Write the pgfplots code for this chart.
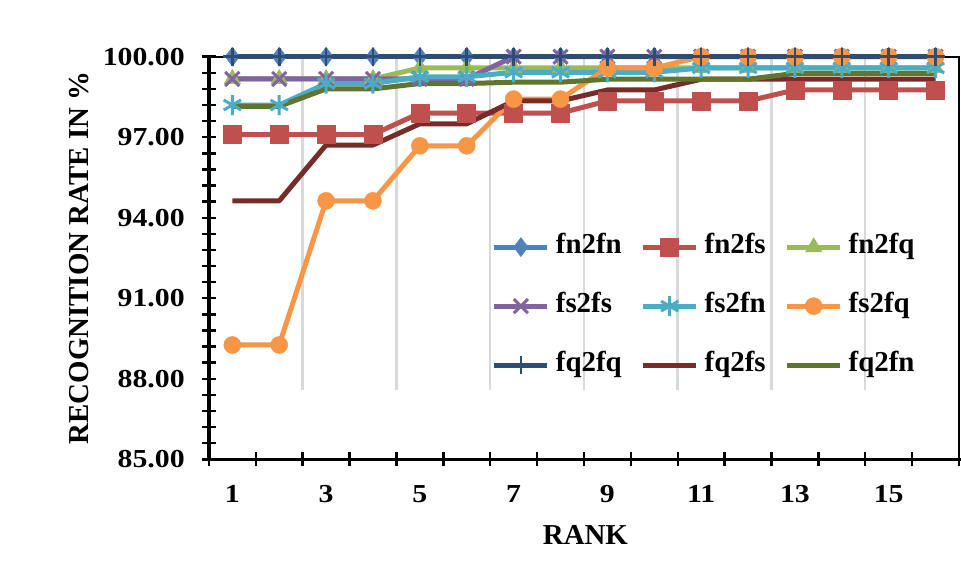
\documentclass[border=0pt]{standalone}
\usepackage{fontspec}
\setmainfont{Liberation Serif}
\newfontfamily\tickfont{Liberation Serif}[FakeStretch=1.15]
\usepackage{pgfplots}
\usepackage{pgfplotstable}
\pgfplotsset{compat=1.18}
\definecolor{cFnfn}{HTML}{4F81BD}
\definecolor{cFnfs}{HTML}{C0504D}
\definecolor{cFnfq}{HTML}{9BBB59}
\definecolor{cFsfs}{HTML}{8064A2}
\definecolor{cFsfn}{HTML}{4BACC6}
\definecolor{cFsfq}{HTML}{F79646}
\definecolor{cFqfq}{HTML}{2C4D75}
\definecolor{cFqfs}{HTML}{772C2A}
\definecolor{cFqfn}{HTML}{5F7530}
\definecolor{gridgray}{HTML}{D9D9D9}
\pgfplotstableread{
rank fnfn fnfs fnfq fsfs fsfn fsfq fqfq fqfs fqfn
1 100 97.10 99.17 99.17 98.20 89.26 100 94.63 98.15
2 100 97.10 99.17 99.17 98.20 89.26 100 94.63 98.15
3 100 97.10 99.17 99.17 99.00 94.63 100 96.71 98.80
4 100 97.10 99.17 99.17 99.00 94.63 100 96.71 98.80
5 100 97.90 99.58 99.17 99.25 96.68 100 97.50 99.00
6 100 97.90 99.58 99.17 99.25 96.68 100 97.50 99.00
7 100 97.90 99.58 100 99.42 98.42 100 98.35 99.05
8 100 97.90 99.58 100 99.42 98.42 100 98.35 99.05
9 100 98.35 99.58 100 99.42 99.58 100 98.76 99.16
10 100 98.35 99.58 100 99.42 99.58 100 98.76 99.16
11 100 98.35 99.58 100 99.58 100 100 99.16 99.16
12 100 98.35 99.58 100 99.58 100 100 99.16 99.16
13 100 98.76 99.58 100 99.58 100 100 99.16 99.38
14 100 98.76 99.58 100 99.58 100 100 99.16 99.38
15 100 98.76 99.58 100 99.58 100 100 99.16 99.38
16 100 98.76 99.58 100 99.58 100 100 99.16 99.38
}\data
\begin{document}
\begin{tikzpicture}
\path[use as bounding box] (-208.9bp,-114.7bp) rectangle (752.1bp,459.3bp);
\begin{axis}[
  at={(0,0)}, anchor=south west,
  width=750.1bp, height=402.6bp, scale only axis,
  xmin=0.5, xmax=16.5, ymin=85, ymax=100,
  clip=false,
  xtick pos=bottom, ytick pos=left,
  xtick={0.5,1.5,...,16.5},
  xticklabels={1,,3,,5,,7,,9,,11,,13,,15,,},
  ytick={85,88,...,100},
  minor y tick num=4,
  tick align=center,
  major tick length=14bp, minor tick length=14bp,
  tick style={black, line width=2.4bp},
  axis line style={black, line width=1.8bp},
  /pgf/number format/assume math mode=true,
  yticklabel={\pgfmathprintnumber[fixed,fixed zerofill,precision=2]{\tick}},
  yticklabel style={font=\tickfont\bfseries\fontsize{26}{30}\selectfont, anchor=east, inner sep=0pt, xshift=-17bp},
  xticklabel style={font=\tickfont\bfseries\fontsize{26}{30}\selectfont, anchor=center, inner sep=0pt, xshift=23.44bp, yshift=-28bp},
  xlabel={RANK},
  ylabel={RECOGNITION RATE IN \%},
  every axis x label/.style={at={(axis description cs:0.502,-0.188)}, anchor=center, font=\bfseries\fontsize{29}{32}\selectfont},
  every axis y label/.style={at={(axis description cs:-0.1733,0.5)}, rotate=90, anchor=center, font=\bfseries\fontsize{29}{32}\selectfont},
  legend columns=3,
  legend cell align=left,
  legend style={at={(axis description cs:0.377,0.561)}, anchor=north west, draw=none, fill=none, inner sep=0pt,
    font=\bfseries\fontsize{29}{32}\selectfont,
    row sep=32bp,
    nodes={inner sep=0pt, text height=20bp, text depth=7bp},
    /tikz/every odd column/.append style={column sep=6bp},
    /tikz/every even column/.append style={column sep=19bp}},
  legend image code/.code={\draw[mark repeat=2,mark phase=2,#1] plot coordinates {(0bp,0bp) (26.5bp,0bp) (53bp,0bp)};},
  every axis plot/.append style={line width=5bp, line join=round},
]
\draw[gridgray, line width=2.5bp] (axis cs:2.5,87.6) -- (axis cs:2.5,100);
\draw[gridgray, line width=2.5bp] (axis cs:4.5,87.6) -- (axis cs:4.5,100);
\draw[gridgray, line width=2.5bp] (axis cs:6.5,87.6) -- (axis cs:6.5,100);
\draw[gridgray, line width=2.5bp] (axis cs:8.5,87.6) -- (axis cs:8.5,100);
\draw[gridgray, line width=2.5bp] (axis cs:10.5,87.6) -- (axis cs:10.5,100);
\draw[gridgray, line width=2.5bp] (axis cs:12.5,87.6) -- (axis cs:12.5,100);
\draw[gridgray, line width=2.5bp] (axis cs:14.5,87.6) -- (axis cs:14.5,100);
\addplot[color=cFnfn, mark=diamond*, mark size=9.5bp, mark options={solid, fill=cFnfn, line width=0.5bp}] table[x=rank,y=fnfn]{\data};
\addlegendentry{fn2fn}
\addplot[color=cFnfs, mark=square*, mark size=9bp, mark options={solid, fill=cFnfs, line width=0.5bp}] table[x=rank,y=fnfs]{\data};
\addlegendentry{fn2fs}
\addplot[color=cFnfq, mark=triangle*, mark size=9.5bp, mark options={solid, fill=cFnfq, line width=0.5bp}] table[x=rank,y=fnfq]{\data};
\addlegendentry{fn2fq}
\addplot[color=cFsfs, mark=x, mark size=10bp, mark options={solid, line width=3bp}] table[x=rank,y=fsfs]{\data};
\addlegendentry{fs2fs}
\addplot[color=cFsfn, mark=asterisk, mark size=10bp, mark options={solid, line width=3bp}] table[x=rank,y=fsfn]{\data};
\addlegendentry{fs2fn}
\addplot[color=cFsfq, mark=*, mark size=8.5bp, mark options={solid, fill=cFsfq, line width=0.5bp}] table[x=rank,y=fsfq]{\data};
\addlegendentry{fs2fq}
\addplot[color=cFqfq, mark=+, mark size=9bp, mark options={solid, line width=2.6bp}] table[x=rank,y=fqfq]{\data};
\addlegendentry{fq2fq}
\addplot[color=cFqfs, no markers] table[x=rank,y=fqfs]{\data};
\addlegendentry{fq2fs}
\addplot[color=cFqfn, no markers] table[x=rank,y=fqfn]{\data};
\addlegendentry{fq2fn}
\draw[black, line width=3.3bp, line cap=rect] (rel axis cs:0,1) -- (rel axis cs:0,0) -- (rel axis cs:1,0);
\end{axis}
\end{tikzpicture}
\end{document}
